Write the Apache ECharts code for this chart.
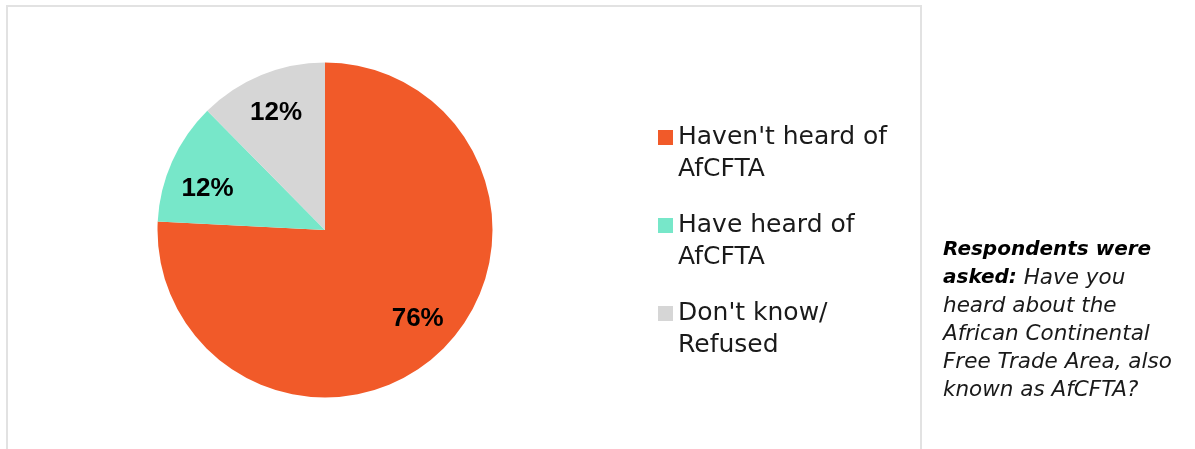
<!DOCTYPE html>
<html>
<head>
<meta charset="utf-8">
<script src="https://cdn.jsdelivr.net/npm/echarts@6/dist/echarts.min.js"></script>
<style>html,body{margin:0;padding:0;background:#fff;}#c{width:1195px;height:449px;}</style>
</head>
<body>
<div id="c"></div>
<script>
var categories = ["Haven't heard of\nAfCFTA", "Have heard of\nAfCFTA", "Don't know/\nRefused"];
var values = [75.8, 11.8, 12.4];
var colors = ['#F15A29', '#77E7C9', '#D6D6D6'];
var noteLines = [
  ['b', 'Respondents were'],
  ['b', 'asked:', 'i', ' Have you'],
  ['i', 'heard about the'],
  ['i', 'African Continental'],
  ['i', 'Free Trade Area, also'],
  ['i', 'known as AfCFTA?']
];

var FONT = '"DejaVu Sans", sans-serif';
var labelOffsets = [[4, -4], [0, 11], [0, 2]];
var data = categories.map(function (c, i) { return { name: c, value: values[i], itemStyle: { color: colors[i] } }; });
var labelData = categories.map(function (c, i) { return { name: c, value: values[i], label: { offset: labelOffsets[i] } }; });
var noteText = noteLines.map(function (l) {
  var s = '';
  for (var k = 0; k < l.length; k += 2) s += '{' + l[k] + '|' + l[k + 1] + '}';
  return s;
}).join('\n');

var chart = echarts.init(document.getElementById('c'), null, { renderer: 'canvas' });
chart.setOption({
  animation: false,
  backgroundColor: '#fff',
  legend: {
    orient: 'vertical',
    left: 658,
    top: 121,
    padding: 0,
    itemGap: 24,
    itemWidth: 15,
    itemHeight: 46,
    icon: 'path://M0,0L15,0L15,15L0,15Z M0,46L15,46',
    data: categories,
    textStyle: { fontFamily: FONT, fontSize: 25, lineHeight: 32, color: '#1a1a1a' }
  },
  graphic: [
    { type: 'rect', shape: { x: 7, y: 6, width: 914, height: 470 }, style: { fill: 'none', stroke: '#e2e2e2', lineWidth: 2 }, silent: true, z: -1 },
    { type: 'text', left: 943, top: 240, style: {
      text: noteText,
      rich: {
        b: { fontFamily: FONT, fontSize: 20, fontWeight: 'bold', fontStyle: 'italic', lineHeight: 28, fill: '#000' },
        i: { fontFamily: FONT, fontSize: 21.5, fontStyle: 'italic', lineHeight: 28, fill: '#1a1a1a' }
      }
    } }
  ],
  series: [
    {
      type: 'pie', center: [325, 230], radius: [0, 167.5], startAngle: 90, clockwise: true,
      label: { show: false }, labelLine: { show: false }, silent: true,
      data: data
    },
    {
      type: 'pie', center: [325, 230], radius: [84, 167.5], startAngle: 90, clockwise: true,
      itemStyle: { color: 'rgba(0,0,0,0)' }, silent: true, legendHoverLink: false,
      label: { show: true, position: 'inside', fontFamily: '"Liberation Sans", sans-serif', fontSize: 26, fontWeight: 'bold', color: '#000',
        formatter: function (p) { return Math.round(p.value) + '%'; } },
      labelLine: { show: false },
      data: labelData
    }
  ]
});
</script>
</body>
</html>
